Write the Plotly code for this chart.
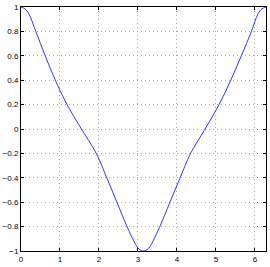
import plotly.graph_objects as go

# Values
x_vals = [0.0, 0.10, 0.20, 0.38, 0.62, 0.88, 1.18, 1.55, 1.93, 2.20, 2.46, 2.72,
          2.93, 3.03, 3.14, 3.25, 3.35, 3.56, 3.82, 4.08, 4.35, 4.72, 5.08,
          5.38, 5.65, 5.91, 6.08, 6.18, 6.2832]
y_vals = [1.0, 0.985, 0.945, 0.8, 0.6, 0.4, 0.2, 0.0, -0.2, -0.4, -0.6, -0.8,
          -0.94, -0.985, -1.0, -0.985, -0.94, -0.8, -0.6, -0.4, -0.2, 0.0, 0.2,
          0.4, 0.6, 0.8, 0.945, 0.985, 1.0]

x_ticks = [0, 1, 2, 3, 4, 5, 6]
y_ticks = [-1, -0.8, -0.6, -0.4, -0.2, 0, 0.2, 0.4, 0.6, 0.8, 1]

font = dict(family="Liberation Sans, Arial, sans-serif", size=8, color="black")

fig = go.Figure()
fig.add_trace(go.Scatter(x=x_vals, y=y_vals, mode="lines",
                         line=dict(color="#0000ff", width=0.8, shape="spline", smoothing=1.0),
                         showlegend=False, hoverinfo="skip"))

axis_common = dict(
    showline=True, linecolor="black", linewidth=1, mirror="ticks",
    ticks="inside", ticklen=3, tickcolor="black", tickwidth=0.8,
    showgrid=True, gridcolor="#a8a8a8", gridwidth=1, griddash="1px,3px",
    zeroline=False, tickfont=font,
)

fig.update_xaxes(range=[0, 6.2832], tickvals=x_ticks, ticktext=[str(t) for t in x_ticks],
                 **axis_common)
fig.update_yaxes(range=[-1, 1], tickvals=y_ticks,
                 ticktext=[("\u2212" if t < 0 else "") + (f"{abs(t):g}") for t in y_ticks],
                 **axis_common)

fig.update_layout(width=270, height=267,
                  margin=dict(l=16, r=3, t=7, b=10, pad=0),
                  paper_bgcolor="white", plot_bgcolor="white")

fig.write_html("out.html", config=dict(displayModeBar=False),
               post_script="document.body.style.margin='0';document.body.style.overflow='hidden';")
